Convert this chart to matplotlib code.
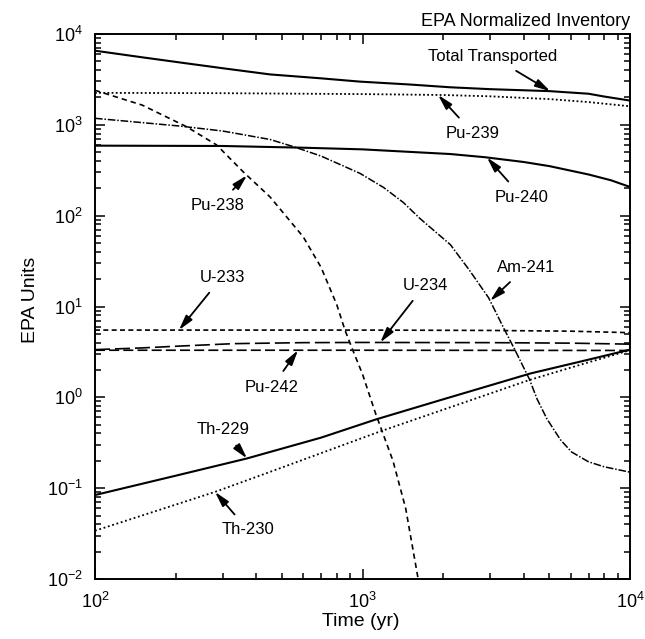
import numpy as np
import matplotlib
matplotlib.use("Agg")
import matplotlib.pyplot as plt
from matplotlib.ticker import FixedLocator, NullFormatter, LogFormatterMathtext

plt.rcParams['font.family'] = ['Liberation Sans', 'DejaVu Sans']
plt.rcParams['mathtext.fontset'] = 'custom'
plt.rcParams['mathtext.rm'] = 'Liberation Sans'
plt.rcParams['mathtext.it'] = 'Liberation Sans:italic'
plt.rcParams['mathtext.bf'] = 'Liberation Sans:bold'
plt.rcParams['mathtext.sf'] = 'Liberation Sans'

# ---------------- data ----------------
x_decades = [2, 3, 4]            # x axis: 10^2 .. 10^4 yr
y_decades = [-2, -1, 0, 1, 2, 3, 4]  # y axis: 10^-2 .. 10^4 EPA units

t_total = [100, 150, 220, 300, 451, 700, 979, 1500, 2130, 3000, 5000, 7000, 8000, 10000]
v_total = [6550, 5540, 4750, 4200, 3590, 3250, 2990, 2780, 2590, 2470, 2350, 2200, 2050, 1850]

t_pu239 = [100, 300, 1000, 2000, 3000, 5000, 7000, 10000]
v_pu239 = [2250, 2230, 2180, 2130, 2060, 1920, 1780, 1600]

t_pu238 = [100, 150, 220, 285, 358, 451, 600, 700, 802, 860, 922, 1000, 1120, 1300, 1450, 1610, 1700]
v_pu238 = [2400, 1650, 953, 600, 304, 161, 58.6, 27, 10.4, 5.5, 3.25, 1.8, 0.66, 0.2, 0.06, 0.0105, 0.005]

t_am241 = [100, 207, 300, 451, 553, 700, 979, 1200, 1420, 1640, 2130, 2500, 2960, 3370,
           3700, 4200, 4500, 4890, 5500, 6050, 7000, 8000, 10000]
v_am241 = [1180, 970, 855, 690, 574, 453, 292, 204, 140, 93, 48, 25.5, 12.5, 5.8,
           3.4, 1.6, 0.95, 0.58, 0.34, 0.25, 0.195, 0.172, 0.15]

t_pu240 = [100, 300, 600, 1000, 2130, 2870, 4000, 5000, 7000, 8500, 10000]
v_pu240 = [590, 585, 560, 537, 477, 440, 390, 351, 284, 245, 207]

t_u233 = [100, 1000, 3000, 6000, 10000]
v_u233 = [5.5, 5.5, 5.45, 5.35, 5.15]

t_u234 = [100, 150, 200, 330, 600, 1000, 3000, 6000, 10000]
v_u234 = [3.35, 3.5, 3.65, 3.9, 4.0, 4.02, 4.0, 3.95, 3.85]

t_pu242 = [100, 1000, 10000]
v_pu242 = [3.3, 3.3, 3.28]

t_th229 = [100, 200, 369, 700, 1120, 2000, 4240, 7000, 10000]
v_th229 = [0.084, 0.137, 0.212, 0.36, 0.57, 0.95, 1.83, 2.6, 3.35]

t_th230 = [100, 281, 451, 1160, 2000, 4200, 7000, 10000]
v_th230 = [0.034, 0.091, 0.151, 0.42, 0.73, 1.55, 2.43, 3.3]

# ---------------- figure ----------------
W, H = 645, 639
fig = plt.figure(figsize=(W / 100, H / 100), dpi=100)
ax = fig.add_axes([95 / W, (H - 579) / H, 535 / W, 545 / H])

series = {
    'Total Transported': (t_total, v_total, dict(ls='-', lw=1.5)),
    'Pu-239': (t_pu239, v_pu239, dict(ls=(0, (1.0, 1.3)), lw=1.3)),
    'Pu-238': (t_pu238, v_pu238, dict(ls=(0, (3.2, 2.4)), lw=1.2)),
    'Am-241': (t_am241, v_am241, dict(ls=(0, (5, 1.2, 1, 1.2)), lw=1.1)),
    'Pu-240': (t_pu240, v_pu240, dict(ls='-', lw=1.5)),
    'U-233': (t_u233, v_u233, dict(ls=(0, (3.0, 2.0)), lw=1.2)),
    'U-234': (t_u234, v_u234, dict(ls=(0, (9, 3)), lw=1.2)),
    'Pu-242': (t_pu242, v_pu242, dict(ls=(0, (6, 2.5)), lw=1.2)),
    'Th-229': (t_th229, v_th229, dict(ls='-', lw=1.5)),
    'Th-230': (t_th230, v_th230, dict(ls=(0, (1.0, 1.5)), lw=1.3)),
}
for name, (t, v, st) in series.items():
    ax.plot(t, v, color='black', **st)

ax.set_xscale('log')
ax.set_yscale('log')
ax.set_xlim(10.0 ** x_decades[0], 10.0 ** x_decades[-1])
ax.set_ylim(10.0 ** y_decades[0], 10.0 ** y_decades[-1])

xmaj = [10.0 ** d for d in x_decades]
ymaj = [10.0 ** d for d in y_decades]
xmin = [m * 10.0 ** d for d in x_decades[:-1] for m in range(2, 10)]
ymin = [m * 10.0 ** d for d in y_decades[:-1] for m in range(2, 10)]
ax.xaxis.set_major_locator(FixedLocator(xmaj))
ax.yaxis.set_major_locator(FixedLocator(ymaj))
ax.xaxis.set_minor_locator(FixedLocator(xmin))
ax.yaxis.set_minor_locator(FixedLocator(ymin))
ax.xaxis.set_minor_formatter(NullFormatter())
ax.yaxis.set_minor_formatter(NullFormatter())
ax.xaxis.set_major_formatter(LogFormatterMathtext())
ax.yaxis.set_major_formatter(LogFormatterMathtext())

ax.tick_params(which='both', direction='in', top=True, right=True, width=1.1, colors='black')
ax.tick_params(which='major', length=7)
ax.tick_params(which='minor', length=4)
ax.tick_params(axis='x', which='major', pad=9, labelsize=13)
ax.tick_params(axis='y', which='major', pad=9, labelsize=13)
for sp in ax.spines.values():
    sp.set_linewidth(1.4)

# axis labels and title
ax.set_xlabel('Time (yr)', fontsize=14)
ax.xaxis.set_label_coords(0.497, -0.062)
ax.set_ylabel('EPA Units', fontsize=14)
ax.yaxis.set_label_coords(-0.105, 0.512)
ax.set_title('EPA Normalized Inventory', loc='right', fontsize=13, pad=6)

# annotations: (label, arrow target time, text centre in image pixels)
annots = [
    ('Total Transported', 5030, (493, 57)),
    ('Pu-239', 1917, (473, 133)),
    ('Pu-240', 2920, (522, 197)),
    ('Pu-238', 370, (218, 205)),
    ('Am-241', 3000, (526, 267)),
    ('U-233', 206, (222, 277)),
    ('U-234', 1165, (425, 285)),
    ('Pu-242', 574, (272, 387)),
    ('Th-229', 370, (223, 430)),
    ('Th-230', 281, (248, 530)),
]
for name, tt, (px, py) in annots:
    t, v, _ = series[name]
    vv = 10 ** np.interp(np.log10(tt), np.log10(t), np.log10(v))
    ax.annotate(name, xy=(tt, vv), xycoords='data',
                xytext=(px, H - py), textcoords='figure pixels',
                ha='center', va='center', fontsize=12,
                arrowprops=dict(arrowstyle='-|>,head_length=0.75,head_width=0.2',
                                color='black', lw=1.3, shrinkA=5, shrinkB=0))

fig.savefig('out.png', dpi=100)
